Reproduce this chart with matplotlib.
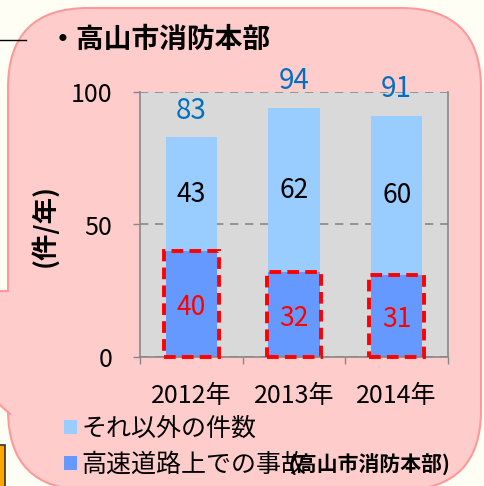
import matplotlib
matplotlib.use('Agg')
import matplotlib.pyplot as plt
from matplotlib.patches import FancyBboxPatch, Polygon, Rectangle

plt.rcParams['font.family'] = ['Noto Sans CJK JP', 'DejaVu Sans']

# data
years = ['2012年', '2013年', '2014年']
highway = [40, 32, 31]          # 高速道路上での事故
others = [43, 62, 60]           # それ以外の件数
totals = [83, 94, 91]
yticks = [0, 50, 100]
title = '・高山市消防本部'
ylabel = '(件/年)'
legend_labels = ['それ以外の件数', '高速道路上での事故']
source_note = '(高山市消防本部)'

PINK = '#FFCCCC'
PINK_EDGE = '#FF9999'
LIGHT = '#99CCFF'
DARK = '#6699FF'
RED = '#FF0000'
GRAY = '#888888'

W, H = 484, 486
fig = plt.figure(figsize=(W / 100, H / 100), dpi=100, facecolor='#FFFEF4')

# background layer in pixel coordinates
bg = fig.add_axes([0, 0, 1, 1])
bg.set_xlim(0, W)
bg.set_ylim(H, 0)
bg.axis('off')

bg.plot([0, 26], [40, 40], color='black', lw=1)
bg.add_patch(Rectangle((-2, 445), 7, 50, facecolor='#FFA500', edgecolor='#333333', lw=1.2))
bubble = FancyBboxPatch((8, 8), 473, 482, boxstyle='round,pad=0,rounding_size=80',
                        facecolor=PINK, edgecolor=PINK_EDGE, lw=1.5)
bg.add_patch(bubble)
bg.add_patch(Polygon([(0, 291), (12, 291), (12, 415), (0, 405)], closed=True,
                     facecolor=PINK, edgecolor='none'))
bg.plot([0, 8], [291, 291], color=PINK_EDGE, lw=1.5)
bg.plot([0, 10], [405, 414], color=PINK_EDGE, lw=1.5)

bg.text(49, 40, title, fontsize=20, fontweight='bold', va='center', ha='left')
bg.text(45, 225, ylabel, fontsize=19, fontweight='bold', rotation=90, va='center', ha='center')

# chart
ax = fig.add_axes([140 / W, 1 - 357 / H, 308 / W, 265 / H])
ax.set_facecolor('#D9D9D9')
x = range(len(years))
b1 = ax.bar(x, highway, width=0.5, color=DARK, zorder=2)
b2 = ax.bar(x, others, width=0.5, bottom=highway, color=LIGHT, zorder=2)
ax.bar(x, highway, width=0.53, fill=False, edgecolor=RED, lw=2.8,
       linestyle=(0, (3, 1.6)), zorder=3, clip_on=False)

for i in x:
    ax.text(i, highway[i] / 2 - 1.5, str(highway[i]), color=RED, fontsize=19,
            ha='center', va='center', zorder=4)
    ax.text(i, highway[i] + others[i] / 2, str(others[i]), color='black', fontsize=19,
            ha='center', va='center', zorder=4)
    ax.text(i, totals[i] + 10, str(totals[i]), color='#0070C0', fontsize=20,
            ha='center', va='center', clip_on=False, zorder=4)

ax.set_xlim(-0.5, 2.5)
ax.set_ylim(0, 100)
ax.set_yticks(yticks)
ax.tick_params(axis='y', length=5, width=1, color=GRAY, labelsize=18, pad=15)
ax.set_xticks(list(x))
ax.set_xticklabels(years)
ax.set_xticks([-0.5, 0.5, 1.5, 2.5], minor=True)
ax.tick_params(axis='x', which='major', length=0, labelsize=18, pad=19)
ax.tick_params(axis='x', which='minor', length=5, width=1, color=GRAY)
ax.yaxis.grid(True, color=GRAY, linestyle=(0, (5, 4)), lw=1.2)
ax.set_axisbelow(True)
for s in ['left', 'right', 'bottom']:
    ax.spines[s].set_color(GRAY)
    ax.spines[s].set_linewidth(1.2)
ax.spines['top'].set_visible(False)

ax.legend([b2, b1], legend_labels, loc='upper left',
          bbox_to_anchor=(64 / W, 1 - 416 / H), bbox_transform=fig.transFigure,
          frameon=False, fontsize=18, handlelength=0.5, handleheight=0.5,
          handletextpad=0.2, labelspacing=0.4, borderpad=0, borderaxespad=0)

# the source note overlaps the legend text in the original slide as well
bg.text(288, 465, source_note, fontsize=15, fontweight='bold', va='center', ha='left', zorder=5)

fig.savefig('out.png', dpi=100, facecolor=fig.get_facecolor())
